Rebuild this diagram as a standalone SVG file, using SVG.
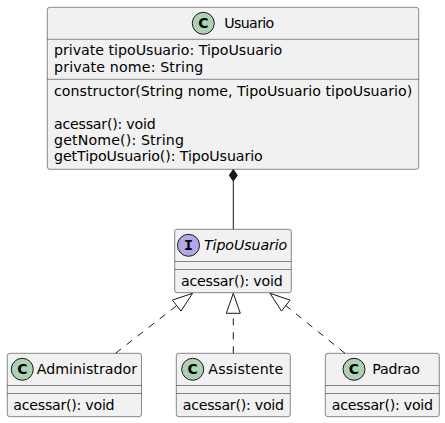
<svg xmlns="http://www.w3.org/2000/svg" width="445" height="423" viewBox="0 0 445 423">
<style>
.box{fill:#F1F1F1;stroke:#181818;stroke-width:0.5}
.sep{stroke:#181818;stroke-width:0.5}
.t{font-family:"DejaVu Sans",sans-serif;font-size:14.2px;fill:#000}
.ti{font-family:"DejaVu Sans",sans-serif;font-size:14.2px;font-style:italic;fill:#000}
.cc{fill:#ADD1B2;stroke:#181818;stroke-width:1}
.ci{fill:#B4A7E5;stroke:#181818;stroke-width:1}
.glyph{font-family:"DejaVu Sans",sans-serif;font-size:14px;font-weight:bold;fill:#000;text-anchor:middle}
.glyphI{font-family:"Liberation Mono",monospace;font-size:15px;font-weight:bold;fill:#000;text-anchor:middle}
.dash{fill:none;stroke:#181818;stroke-width:1;stroke-dasharray:7,7}
.line{fill:none;stroke:#181818;stroke-width:1}
.tri{fill:none;stroke:#181818;stroke-width:1}
</style>
<rect width="445" height="423" fill="#FFFFFF"/>
<g id="Usuario">
<rect class="box" x="47.3" y="7.3" width="371.4" height="162" rx="2.5"/>
<circle class="cc" cx="203.3" cy="23.3" r="11"/>
<text class="glyph" x="203.3" y="28.3">C</text>
<text class="t" x="224.3" y="28.3" textLength="50" lengthAdjust="spacing">Usuario</text>
<line class="sep" x1="47.3" y1="39.3" x2="418.7" y2="39.3"/>
<text class="t" x="54" y="55.3" textLength="228.3" lengthAdjust="spacing">private tipoUsuario: TipoUsuario</text>
<text class="t" x="54" y="71.6" textLength="149.3" lengthAdjust="spacing">private nome: String</text>
<line class="sep" x1="47.3" y1="79.3" x2="418.7" y2="79.3"/>
<text class="t" x="54" y="96.2" textLength="358.3" lengthAdjust="spacing">constructor(String nome, TipoUsuario tipoUsuario)</text>
<text class="t" x="54" y="128.8" textLength="101.7" lengthAdjust="spacing">acessar(): void</text>
<text class="t" x="54" y="145.1" textLength="130" lengthAdjust="spacing">getNome(): String</text>
<text class="t" x="54" y="161.4" textLength="208.7" lengthAdjust="spacing">getTipoUsuario(): TipoUsuario</text>
</g>
<g id="TipoUsuario">
<rect class="box" x="174.7" y="229.3" width="116.6" height="63.4" rx="2.5"/>
<circle class="ci" cx="188.5" cy="245.3" r="11"/>
<text class="glyphI" x="188.5" y="250.3">I</text>
<text class="ti" x="204" y="250.3" textLength="83.3" lengthAdjust="spacing">TipoUsuario</text>
<line class="sep" x1="174.7" y1="261.5" x2="291.3" y2="261.5"/>
<line class="sep" x1="174.7" y1="269.5" x2="291.3" y2="269.5"/>
<text class="t" x="181" y="286" textLength="101.7" lengthAdjust="spacing">acessar(): void</text>
</g>
<g id="Administrador">
<rect class="box" x="7.3" y="353.3" width="134.2" height="63.4" rx="2.5"/>
<circle class="cc" cx="22.3" cy="369.3" r="11"/>
<text class="glyph" x="22.3" y="374.3">C</text>
<text class="t" x="36.7" y="374.3" textLength="100.3" lengthAdjust="spacing">Administrador</text>
<line class="sep" x1="7.3" y1="385.5" x2="141.5" y2="385.5"/>
<line class="sep" x1="7.3" y1="393.5" x2="141.5" y2="393.5"/>
<text class="t" x="13.3" y="409.5" textLength="101.3" lengthAdjust="spacing">acessar(): void</text>
</g>
<g id="Assistente">
<rect class="box" x="176.3" y="353.3" width="114" height="63.4" rx="2.5"/>
<circle class="cc" cx="192.7" cy="369.3" r="11"/>
<text class="glyph" x="192.7" y="374.3">C</text>
<text class="t" x="208.3" y="374.3" textLength="75" lengthAdjust="spacing">Assistente</text>
<line class="sep" x1="176.3" y1="385.5" x2="290.3" y2="385.5"/>
<line class="sep" x1="176.3" y1="393.5" x2="290.3" y2="393.5"/>
<text class="t" x="182.7" y="409.5" textLength="101.3" lengthAdjust="spacing">acessar(): void</text>
</g>
<g id="Padrao">
<rect class="box" x="325.3" y="353.3" width="114" height="63.4" rx="2.5"/>
<circle class="cc" cx="354" cy="369.3" r="11"/>
<text class="glyph" x="354" y="374.3">C</text>
<text class="t" x="372.3" y="374.3" textLength="47.7" lengthAdjust="spacing">Padrao</text>
<line class="sep" x1="325.3" y1="385.5" x2="439.3" y2="385.5"/>
<line class="sep" x1="325.3" y1="393.5" x2="439.3" y2="393.5"/>
<text class="t" x="331.7" y="409.5" textLength="101.3" lengthAdjust="spacing">acessar(): void</text>
</g>
<g id="connectors">
<line class="line" x1="233.3" y1="181" x2="233.3" y2="229.3"/>
<polygon points="233.3,169.5 237.3,175.3 233.3,181 229.3,175.3" fill="#181818" stroke="#181818" stroke-width="1"/>
<line class="dash" x1="115.5" y1="353.3" x2="176.7" y2="305.6"/>
<polygon class="tri" points="192.5,293.3 181,311.1 172.4,300.1"/>
<line class="dash" x1="233.3" y1="353.3" x2="233.3" y2="313.3"/>
<polygon class="tri" points="233.3,293.3 240.3,313.3 226.3,313.3"/>
<line class="dash" x1="345" y1="353.3" x2="285.8" y2="305.6"/>
<polygon class="tri" points="270,293.3 290.1,300.1 281.5,311.1"/>
</g>
</svg>
